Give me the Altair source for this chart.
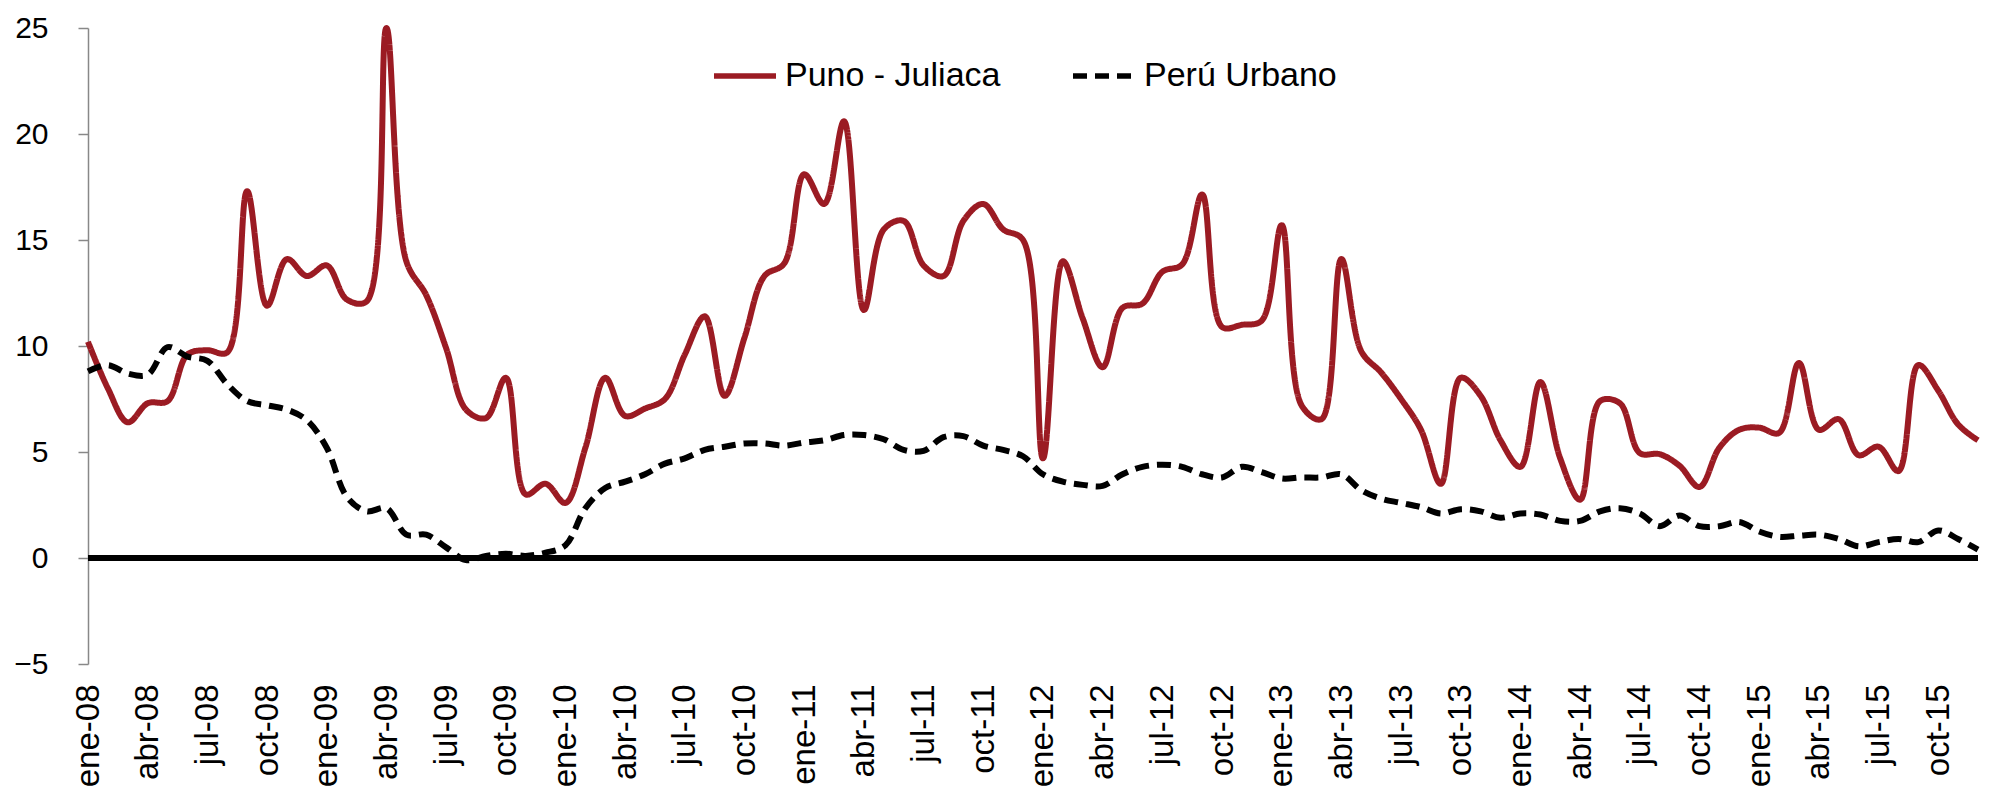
import altair as alt
import pandas as pd

abbr = ["ene", "feb", "mar", "abr", "may", "jun", "jul", "ago", "sep", "oct", "nov", "dic"]
years = ["08", "09", "10", "11", "12", "13", "14", "15"]
meses = [f"{m}-{y}" for y in years for m in abbr]

puno = [
    10.2, 8.0, 6.4, 7.3, 7.4, 9.6, 9.8, 9.7, 17.3, 11.9, 14.1, 13.3,
    13.8, 12.2, 12.1, 25.0, 14.0, 12.4, 9.9, 7.0, 6.6, 8.5, 3.0, 3.5,
    2.6, 5.2, 8.5, 6.7, 7.05, 7.5, 9.6, 11.4, 7.65, 10.4, 13.3, 13.9,
    18.1, 16.7, 20.6, 11.7, 15.5, 15.9, 13.8, 13.3, 15.9, 16.7, 15.5, 15.0,
    4.7, 14.0, 11.3, 9.0, 11.8, 12.0, 13.5, 13.85, 17.15, 10.9, 11.0, 11.2,
    15.7, 7.2, 6.55, 14.1, 9.75, 8.75, 7.5, 6.05, 3.5, 8.5, 7.65, 5.55,
    4.3, 8.3, 4.7, 2.75, 7.4, 7.3, 4.95, 4.9, 4.35, 3.35, 5.2, 6.05,
    6.15, 5.9, 9.2, 6.05, 6.55, 4.85, 5.25, 4.1, 9.1, 7.9, 6.3, 5.55,
]

peru = [
    8.8, 9.1, 8.7, 8.65, 9.95, 9.5, 9.3, 8.2, 7.4, 7.2, 7.0, 6.5,
    5.2, 2.9, 2.2, 2.35, 1.1, 1.1, 0.5, -0.1, 0.1, 0.2, 0.1, 0.25,
    0.6, 2.35, 3.3, 3.6, 3.95, 4.45, 4.7, 5.1, 5.25, 5.4, 5.4, 5.3,
    5.45, 5.55, 5.8, 5.8, 5.6, 5.1, 5.05, 5.7, 5.75, 5.3, 5.1, 4.8,
    3.95, 3.6, 3.45, 3.4, 3.95, 4.3, 4.4, 4.3, 3.95, 3.8, 4.3, 4.05,
    3.75, 3.8, 3.8, 3.95, 3.2, 2.8, 2.6, 2.4, 2.1, 2.3, 2.2, 1.9,
    2.1, 2.05, 1.75, 1.75, 2.2, 2.35, 2.1, 1.5, 2.0, 1.5, 1.5, 1.7,
    1.25, 1.0, 1.05, 1.1, 0.9, 0.55, 0.75, 0.9, 0.75, 1.3, 0.9, 0.4,
]

series_names = ["Puno - Juliaca", "Perú Urbano"]
series_colors = ["#9B1B23", "#000000"]
y_ticks = [-5, 0, 5, 10, 15, 20, 25]
x_label_values = meses[::3]

rows = []
for i, m in enumerate(meses):
    rows.append({"mes": m, "serie": series_names[0], "valor": puno[i], "orden": 0})
    rows.append({"mes": m, "serie": series_names[1], "valor": peru[i], "orden": 1})
df = pd.DataFrame(rows)
zero_df = pd.DataFrame({"valor": [0]})

FONT = "Liberation Sans"

y_scale = alt.Scale(domain=[-5, 25], nice=False, zero=False)

y_axis = alt.Axis(
    title=None,
    values=y_ticks,
    grid=False,
    domain=True,
    domainColor="#888888",
    domainWidth=1.5,
    ticks=True,
    tickColor="#888888",
    tickWidth=1.5,
    tickSize=10,
    labelFontSize=30,
    labelFont=FONT,
    labelColor="#000000",
    labelPadding=30,
)

x_enc = alt.X(
    "mes:O",
    sort=meses,
    scale=alt.Scale(type="point", padding=0),
    axis=alt.Axis(
        title=None,
        values=x_label_values,
        domain=False,
        ticks=False,
        labelAngle=270,
        labelAlign="right",
        labelBaseline="middle",
        labelPadding=20,
        labelFontSize=33,
        labelFont=FONT,
        labelColor="#000000",
        labelOverlap=False,
        labelFlush=False,
        labelLimit=400,
    ),
)

legend_def = alt.Legend(
    title=None,
    orient="none",
    legendX=623,
    legendY=14,
    direction="horizontal",
    symbolType="stroke",
    symbolSize=3844,
    symbolStrokeWidth=5.5,
    labelFontSize=34,
    labelFont=FONT,
    labelColor="#000000",
    labelOffset=6,
    labelLimit=500,
    columnPadding=61,
    padding=0,
)

lines = alt.Chart(df).mark_line(interpolate="catmull-rom", strokeWidth=6).encode(
    x=x_enc,
    y=alt.Y("valor:Q", scale=y_scale, axis=y_axis),
    color=alt.Color(
        "serie:N",
        sort=series_names,
        scale=alt.Scale(domain=series_names, range=series_colors),
        legend=legend_def,
    ),
    strokeDash=alt.StrokeDash(
        "serie:N",
        sort=series_names,
        scale=alt.Scale(domain=series_names, range=[[1, 0], [14, 8]]),
        legend=legend_def,
    ),
    order=alt.Order("orden:Q"),
)

zero_rule = alt.Chart(zero_df).mark_rule(color="#000000", strokeWidth=6).encode(
    y=alt.Y("valor:Q", scale=y_scale, axis=y_axis)
)

chart = (
    alt.layer(zero_rule, lines)
    .properties(
        width=1890,
        height=636,
        padding={"left": 80, "top": 20, "right": 2, "bottom": 126},
        autosize=alt.AutoSizeParams(type="none"),
        background="#ffffff",
    )
    .configure_view(strokeWidth=0)
)

chart.save("out.html", embed_options={"renderer": "svg", "actions": False})
